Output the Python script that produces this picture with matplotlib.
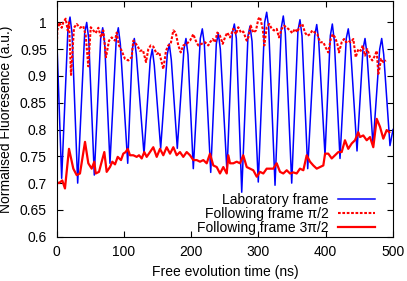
import numpy as np
import matplotlib
matplotlib.use('Agg')
import matplotlib.pyplot as plt
from matplotlib.ticker import FormatStrFormatter

plt.rcParams['font.family'] = ['Liberation Sans', 'DejaVu Sans']
plt.rcParams['font.size'] = 10

# laboratory frame (peaks, shoulders and valleys)
lab_t = [0, 7.4,
         16.8, 19.8, 22.8, 31.2,
         41.6, 44.6, 47.6, 55.9,
         65.4, 68.4, 71.4, 79.2,
         88.6, 91.6, 94.6, 105.6,
         112.4, 115.4, 118.4, 129.8,
         139.1, 142.1, 145.1, 154.6,
         164.4, 167.4, 170.4, 179.3,
         189.2, 192.2, 195.2, 203.1,
         213.5, 216.5, 219.5, 229.0,
         237.3, 240.3, 243.3, 253.2,
         261.1, 264.1, 267.1, 275.1,
         284.4, 287.4, 290.4, 299.7,
         309.2, 312.2, 315.2, 324.6,
         333.9, 336.9, 339.9, 349.4,
         358.7, 361.7, 364.7, 373.2,
         383.6, 386.6, 389.6, 398.9,
         406.8, 409.8, 412.8, 421.2,
         430.5, 433.5, 436.5, 446.5,
         455.4, 458.4, 461.4, 470.3,
         480.2, 483.2, 486.2, 495.5,
         500]
lab_v = [0.975, 0.709,
         0.990, 1.010, 0.980, 0.700,
         0.980, 1.000, 0.970, 0.715,
         0.970, 0.990, 0.960, 0.737,
         0.970, 0.990, 0.960, 0.737,
         0.950, 0.970, 0.940, 0.754,
         0.930, 0.950, 0.920, 0.765,
         0.940, 0.960, 0.930, 0.765,
         0.950, 0.970, 0.940, 0.727,
         0.970, 0.988, 0.960, 0.720,
         0.960, 0.980, 0.950, 0.720,
         0.980, 0.997, 0.970, 0.683,
         0.975, 0.993, 0.965, 0.702,
         1.000, 1.019, 0.990, 0.696,
         0.990, 1.012, 0.980, 0.700,
         0.985, 1.005, 0.975, 0.727,
         0.975, 0.996, 0.965, 0.752,
         0.975, 0.997, 0.965, 0.746,
         0.970, 0.988, 0.960, 0.760,
         0.950, 0.970, 0.940, 0.770,
         0.950, 0.970, 0.940, 0.770,
         0.800]

# following frame pi/2
half_t = [0, 0.9, 3.9, 7.4, 9.8, 13.4, 16.4, 18.3, 21.3, 25.7, 29.7, 34.6, 39.5, 43.1,
          47.0, 50.6, 54.4, 58.0, 61.9, 65.9, 69.3, 73.3, 77.8, 81.8, 86.7, 89.2,
          92.6, 96.6, 101.5, 106.5, 111.5, 113.9, 116.4, 119.8, 123.8, 128.3, 132.8,
          136.2, 139.8, 143.6, 148.7, 152.5, 158.5, 162.5, 165.9, 169.5, 173.4,
          176.9, 180.8, 184.4, 188.2, 193.3, 198.2, 203.1, 206.7, 210.5, 215.6,
          220.5, 225.4, 228.0, 231.9, 235.4, 238.8, 242.8, 246.8, 250.2, 253.6,
          257.7, 262.6, 266.6, 270.0, 274.0, 277.4, 282.5, 284.9, 288.4, 292.3,
          296.3, 299.7, 302.3, 306.3, 308.7, 312.2, 316.1, 319.7, 323.1, 327.1,
          330.5, 334.5, 338.0, 342.4, 346.9, 350.3, 354.3, 357.7, 361.7, 365.2,
          369.2, 372.6, 376.6, 380.0, 384.0, 387.5, 391.5, 396.4, 400.0, 403.8,
          407.4, 410.4, 413.8, 417.2, 419.7, 423.7, 427.2, 430.2, 433.6, 437.1,
          441.0, 444.6, 448.4, 452.0, 455.0, 458.4, 461.8, 465.8, 469.2, 473.2,
          475.8, 478.2, 480.0, 482.2, 485.6, 489.6]
half_v = [0.944, 0.985, 1.000, 0.990, 1.000, 1.007, 0.985, 1.000, 0.902, 0.990, 0.997, 0.990, 0.993, 0.976,
          0.918, 0.991, 0.985, 0.980, 0.990, 0.972, 0.985, 0.935, 0.966, 0.972, 0.966, 0.981,
          0.957, 0.947, 0.932, 0.929, 0.935, 0.966, 0.962, 0.957, 0.947, 0.948, 0.926,
          0.950, 0.957, 0.955, 0.941, 0.944, 0.913, 0.947, 0.957, 0.960, 0.985,
          0.981, 0.957, 0.944, 0.957, 0.960, 0.966, 0.978, 0.966, 0.957, 0.960,
          0.963, 0.957, 0.963, 0.969, 0.963, 0.981, 0.975, 0.960, 0.972, 0.981,
          0.972, 0.988, 0.978, 0.991, 0.981, 0.983, 0.966, 0.972, 0.994, 0.981,
          0.985, 1.006, 1.010, 0.988, 0.957, 0.991, 0.997, 0.988, 0.985, 0.988,
          0.972, 0.988, 0.994, 0.990, 0.985, 0.980, 0.988, 0.982, 0.994, 0.997,
          0.981, 0.975, 0.978, 0.985, 0.981, 0.978, 0.963, 0.963, 0.953, 0.944,
          0.969, 0.978, 0.972, 0.960, 0.944, 0.963, 0.969, 0.963, 0.966, 0.963,
          0.969, 0.935, 0.950, 0.947, 0.957, 0.938, 0.950, 0.935, 0.929, 0.938,
          0.947, 0.904, 0.915, 0.932, 0.926, 0.929]

# following frame 3pi/2
three_t = [0, 3.4, 8.3, 12.3, 18.3, 24.7, 29.7, 34.6, 42.1, 47.0, 52.0, 55.9, 58.0,
           62.9, 66.9, 70.8, 74.3, 79.2, 82.7, 86.7, 90.7, 95.6, 99.0, 102.6, 105.6,
           109.0, 113.9, 118.9, 122.4, 126.4, 130.2, 133.8, 138.7, 143.6, 148.7,
           153.6, 158.5, 163.5, 168.5, 173.4, 178.4, 183.3, 188.2, 193.3, 198.2,
           203.1, 208.2, 213.1, 218.0, 223.0, 227.9, 232.8, 237.9, 242.8, 247.7,
           252.8, 255.1, 257.7, 262.6, 267.6, 272.5, 277.4, 282.5, 287.4, 292.3,
           297.4, 302.3, 307.2, 312.2, 317.1, 322.0, 327.1, 332.0, 336.9, 342.0,
           346.9, 351.8, 356.8, 361.7, 366.7, 371.7, 376.6, 381.5, 386.6, 391.5,
           396.4, 399.0, 403.8, 408.9, 413.8, 418.7, 423.7, 428.6, 433.5, 438.6,
           443.5, 448.4, 450.9, 455.8, 460.9, 465.8, 470.7, 475.8, 480.7, 485.6,
           490.6, 494.5]
three_v = [0.702, 0.700, 0.705, 0.690, 0.764, 0.727, 0.715, 0.718, 0.777, 0.737, 0.727, 0.740, 0.718,
           0.721, 0.740, 0.758, 0.721, 0.730, 0.740, 0.735, 0.749, 0.743, 0.755, 0.758, 0.764,
           0.752, 0.752, 0.749, 0.752, 0.746, 0.758, 0.749, 0.758, 0.767, 0.749,
           0.764, 0.752, 0.767, 0.755, 0.767, 0.752, 0.758, 0.749, 0.758, 0.752,
           0.743, 0.743, 0.740, 0.743, 0.737, 0.755, 0.733, 0.730, 0.718, 0.730,
           0.718, 0.752, 0.737, 0.737, 0.740, 0.737, 0.752, 0.730, 0.727, 0.724,
           0.712, 0.721, 0.718, 0.727, 0.727, 0.727, 0.737, 0.721, 0.718, 0.724,
           0.718, 0.720, 0.718, 0.727, 0.724, 0.752, 0.740, 0.733, 0.727, 0.730,
           0.733, 0.755, 0.755, 0.746, 0.752, 0.758, 0.758, 0.780, 0.764, 0.774,
           0.780, 0.795, 0.786, 0.789, 0.780, 0.786, 0.767, 0.820, 0.805, 0.783,
           0.799, 0.795]

x_ticks = [0, 100, 200, 300, 400, 500]
y_ticks = [0.6, 0.65, 0.7, 0.75, 0.8, 0.85, 0.9, 0.95, 1.0]

fig = plt.figure(figsize=(4.07, 2.81), dpi=100)
ax = fig.add_axes([0.1393, 0.1577, 0.8263, 0.8388])

ax.plot(lab_t, lab_v, color='#0000ff', lw=1.1, label='Laboratory frame')
ax.plot(half_t, half_v, color='#ff0000', lw=1.5, dashes=(1.3, 0.8),
        label='Following frame \u03c0/2')
ax.plot(three_t, three_v, color='#ff0000', lw=1.6, label='Following frame 3\u03c0/2')

ax.set_xlim(0, 500)
ax.set_ylim(0.6, 1.04)
ax.set_xticks(x_ticks)
ax.set_yticks(y_ticks)
ax.yaxis.set_major_formatter(FormatStrFormatter('%g'))
ax.tick_params(direction='in', length=4, width=0.8, top=True, right=True, labelsize=10)
ax.tick_params(axis='y', pad=7)
ax.tick_params(axis='x', pad=6)
for s in ax.spines.values():
    s.set_linewidth(0.8)

ax.set_xlabel('Free evolution time (ns)', labelpad=4)
ax.set_ylabel('Normalised Fluoresence (a.u.)', labelpad=5)

ax.legend(loc='lower right', bbox_to_anchor=(0.947, 0.008), frameon=False,
          markerfirst=False, borderpad=0, borderaxespad=0, labelspacing=0.0,
          handlelength=2.66, handletextpad=0.7, fontsize=10)

fig.savefig('out.png', dpi=100)
